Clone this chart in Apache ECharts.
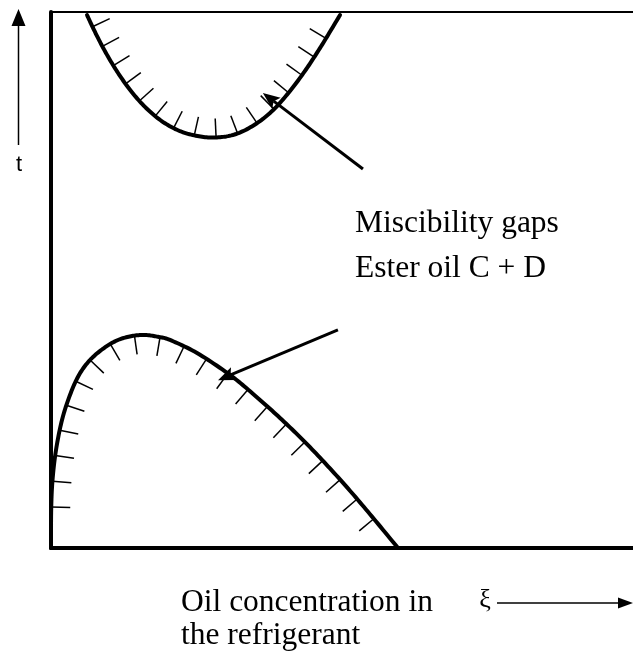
<!DOCTYPE html>
<html>
<head>
<meta charset="utf-8">
<script src="https://cdn.jsdelivr.net/npm/echarts/dist/echarts.min.js"></script>
<style>
  html, body { margin: 0; padding: 0; background: #ffffff; }
  #chart { width: 633px; height: 658px; }
</style>
</head>
<body>
<div id="chart"></div>
<script>
// Schematic phase diagram: oil concentration ξ (x) against temperature t (y), arbitrary units 0..100.

// Upper miscibility gap boundary
const upperGapX = [6.19, 7.56, 9.28, 11.34, 13.57, 16.15, 19.07, 22.16, 25.43, 28.52, 31.79, 35.05, 38.14, 41.07, 43.81, 46.39, 48.63, 49.66];
const upperGapY = [99.44, 96.27, 92.67, 88.92, 85.49, 82.29, 79.61, 77.78, 76.81, 76.59, 77.24, 79.01, 81.68, 85.26, 89.27, 93.56, 97.57, 99.44];

// Lower miscibility gap boundary
const lowerGapX = [0.0, 0.03, 0.26, 0.86, 1.89, 3.26, 4.81, 6.70, 9.11, 11.51, 13.92, 16.15, 18.38, 20.45, 25.09, 30.76, 34.88, 39.00, 43.13, 47.25, 51.37, 55.50, 59.62];
const lowerGapY = [0.0, 7.09, 12.69, 18.28, 23.88, 28.54, 32.28, 35.07, 37.31, 38.81, 39.55, 39.74, 39.40, 38.81, 36.38, 32.28, 28.60, 24.61, 20.32, 15.65, 10.69, 5.41, 0.0];

// Pointer arrows from the annotation to each gap: [fromX, fromY, toX, toY]
const upperArrow = [53.6, 70.7, 36.4, 84.9];
const lowerArrow = [49.3, 40.7, 28.7, 31.3];

// Texts
const annotationLines = ['Miscibility gaps', 'Ester oil C + D'];
const xTitleLines = ['Oil concentration in', 'the refrigerant'];
const xSymbol = 'ξ';
const ySymbol = 't';

const SERIF = '"Liberation Serif", "Times New Roman", serif';
const SANS = '"Liberation Sans", Arial, sans-serif';

// Catmull-Rom resampling of a boundary in pixel space
function splinePixels(api, xs, ys) {
  const p = xs.map((x, i) => api.coord([x, ys[i]]));
  const out = [];
  const steps = 12;
  for (let i = 0; i < p.length - 1; i++) {
    const p0 = p[i - 1] || p[i], p1 = p[i], p2 = p[i + 1], p3 = p[i + 2] || p[i + 1];
    for (let s = 0; s < steps; s++) {
      const t = s / steps, t2 = t * t, t3 = t2 * t;
      const f = (a, b, c, d) => 0.5 * ((2 * b) + (-a + c) * t + (2 * a - 5 * b + 4 * c - d) * t2 + (-a + 3 * b - 3 * c + d) * t3);
      out.push([f(p0[0], p1[0], p2[0], p3[0]), f(p0[1], p1[1], p2[1], p3[1])]);
    }
  }
  out.push(p[p.length - 1]);
  return out;
}

// Boundary curve plus short hatch strokes on the two-phase side
function boundaryRenderer(xs, ys, side, spacing, startAt, endMargin, hatchLen) {
  return function (params, api) {
    const pts = splinePixels(api, xs, ys);
    const cum = [0];
    for (let i = 1; i < pts.length; i++) {
      cum.push(cum[i - 1] + Math.hypot(pts[i][0] - pts[i - 1][0], pts[i][1] - pts[i - 1][1]));
    }
    const total = cum[cum.length - 1];
    const children = [{
      type: 'polyline',
      shape: { points: pts },
      style: { stroke: '#000', lineWidth: 4, fill: null, lineJoin: 'round', lineCap: 'round' }
    }];
    for (let s = startAt; s <= total - endMargin + 0.01; s += spacing) {
      let k = 1;
      while (k < pts.length - 1 && cum[k] < s) k++;
      const a = pts[k - 1], b = pts[k];
      const seg = cum[k] - cum[k - 1] || 1;
      const f = (s - cum[k - 1]) / seg;
      const px = a[0] + (b[0] - a[0]) * f;
      const py = a[1] + (b[1] - a[1]) * f;
      const ia = Math.max(0, k - 3), ib = Math.min(pts.length - 1, k + 2);
      let tx = pts[ib][0] - pts[ia][0], ty = pts[ib][1] - pts[ia][1];
      const tl = Math.hypot(tx, ty) || 1;
      tx /= tl; ty /= tl;
      const nx = side * ty, ny = -side * tx;
      children.push({
        type: 'line',
        shape: { x1: px, y1: py, x2: px + nx * hatchLen, y2: py + ny * hatchLen },
        style: { stroke: '#000', lineWidth: 1.5 }
      });
    }
    return { type: 'group', children: children };
  };
}

// Straight pointer with a filled, slightly notched head
function arrowRenderer(arrow) {
  return function (params, api) {
    const a = api.coord([arrow[0], arrow[1]]);
    const b = api.coord([arrow[2], arrow[3]]);
    const dx = b[0] - a[0], dy = b[1] - a[1];
    const L = Math.hypot(dx, dy);
    const ux = dx / L, uy = dy / L, vx = -uy, vy = ux;
    const headLen = 17, headHalf = 7;
    const base = [b[0] - ux * headLen, b[1] - uy * headLen];
    const notch = [b[0] - ux * headLen * 0.8, b[1] - uy * headLen * 0.8];
    return {
      type: 'group',
      children: [
        { type: 'line', shape: { x1: a[0], y1: a[1], x2: notch[0], y2: notch[1] },
          style: { stroke: '#000', lineWidth: 3 } },
        { type: 'polygon',
          shape: { points: [b, [base[0] + vx * headHalf, base[1] + vy * headHalf], notch,
                            [base[0] - vx * headHalf, base[1] - vy * headHalf]] },
          style: { fill: '#000' } }
      ]
    };
  };
}

const chart = echarts.init(document.getElementById('chart'), null, { renderer: 'canvas' });

const hiddenAxisParts = {
  axisTick: { show: false },
  axisLabel: { show: false },
  splitLine: { show: false }
};

chart.setOption({
  backgroundColor: '#ffffff',
  animation: false,
  grid: { left: 51, right: 0, top: 12, bottom: 110 },
  xAxis: [
    Object.assign({ type: 'value', min: 0, max: 100, position: 'bottom',
      axisLine: { show: true, onZero: false, lineStyle: { color: '#000', width: 4 } } }, hiddenAxisParts),
    Object.assign({ type: 'value', min: 0, max: 100, position: 'top',
      axisLine: { show: true, onZero: false, lineStyle: { color: '#000', width: 2 } } }, hiddenAxisParts)
  ],
  yAxis: Object.assign({ type: 'value', min: 0, max: 100,
    axisLine: { show: true, onZero: false, lineStyle: { color: '#000', width: 4 } } }, hiddenAxisParts),
  series: [
    { type: 'custom', name: 'upper gap', silent: true, clip: false, data: [[50, 50]],
      renderItem: boundaryRenderer(upperGapX, upperGapY, 1, 22, 13, 10, 19) },
    { type: 'custom', name: 'lower gap', silent: true, clip: false, data: [[50, 50]],
      renderItem: boundaryRenderer(lowerGapX, lowerGapY, -1, 25.8, 41, 34, 19) },
    { type: 'custom', name: 'upper pointer', silent: true, clip: false, data: [[50, 50]],
      renderItem: arrowRenderer(upperArrow) },
    { type: 'custom', name: 'lower pointer', silent: true, clip: false, data: [[50, 50]],
      renderItem: arrowRenderer(lowerArrow) }
  ],
  graphic: [
    // t axis direction arrow
    { type: 'line', shape: { x1: 18.5, y1: 145, x2: 18.5, y2: 24 }, style: { stroke: '#000', lineWidth: 1.5 } },
    { type: 'polygon', shape: { points: [[18.5, 9], [11.5, 26], [25.5, 26]] }, style: { fill: '#000' } },
    { type: 'text', x: 19, y: 165, style: { text: ySymbol, fill: '#000', font: '22px ' + SANS, align: 'center', verticalAlign: 'middle' } },
    // ξ axis direction arrow
    { type: 'text', x: 485, y: 600, style: { text: xSymbol, fill: '#000', font: '26px ' + SERIF, align: 'center', verticalAlign: 'middle' } },
    { type: 'line', shape: { x1: 497, y1: 603, x2: 622, y2: 603 }, style: { stroke: '#000', lineWidth: 1.5 } },
    { type: 'polygon', shape: { points: [[633, 603], [618, 597.5], [618, 608.5]] }, style: { fill: '#000' } },
    // annotation
    { type: 'text', x: 355, y: 223.5, style: { text: annotationLines[0], fill: '#000', font: '31.5px ' + SERIF, align: 'left', verticalAlign: 'middle' } },
    { type: 'text', x: 355, y: 268.5, style: { text: annotationLines[1], fill: '#000', font: '31.5px ' + SERIF, align: 'left', verticalAlign: 'middle' } },
    // x-axis title
    { type: 'text', x: 181, y: 602.5, style: { text: xTitleLines[0], fill: '#000', font: '31.5px ' + SERIF, align: 'left', verticalAlign: 'middle' } },
    { type: 'text', x: 181, y: 635.5, style: { text: xTitleLines[1], fill: '#000', font: '31.5px ' + SERIF, align: 'left', verticalAlign: 'middle' } }
  ]
});
</script>
</body>
</html>
